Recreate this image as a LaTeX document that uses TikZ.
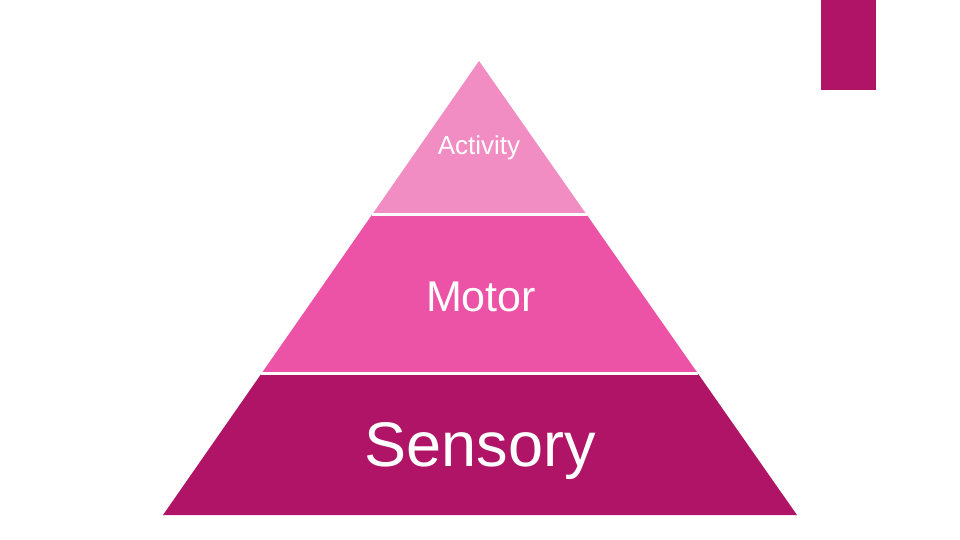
\documentclass[tikz,border=0pt]{standalone}
\usepackage{fontspec}
\setmainfont{Liberation Sans}
\usepackage{xcolor}
\usepackage{tikz}
\usetikzlibrary{positioning, calc}

\definecolor{pinklight}{HTML}{F28DC3}
\definecolor{pinkmid}{HTML}{EC52A5}
\definecolor{pinkdark}{HTML}{B01467}

\tikzset{
  layertext/.style={text=white, inner sep=0pt},
  divider/.style={white, line width=3pt}
}

\begin{document}
\begin{tikzpicture}[x=1pt, y=-1pt]
  \useasboundingbox (0,0) rectangle (960,540);
  \coordinate (apex) at (479,61);
  \coordinate (bl) at (163,515);
  \coordinate (br) at (797,515);
  \coordinate (ml) at ($(apex)!0.339!(bl)$);
  \coordinate (mr) at ($(apex)!0.339!(br)$);
  \coordinate (ll) at ($(apex)!0.689!(bl)$);
  \coordinate (lr) at ($(apex)!0.689!(br)$);
  % layers
  \fill[pinklight] (apex) -- (mr) -- (ml) -- cycle;
  \fill[pinkmid] (ml) -- (mr) -- (lr) -- (ll) -- cycle;
  \fill[pinkdark] (ll) -- (lr) -- (br) -- (bl) -- cycle;
  \draw[divider] (ml) -- (mr);
  \draw[divider] (ll) -- (lr);
  % corner bar
  \fill[pinkdark] (821,0) rectangle (876,90);
  % labels
  \node[layertext, font=\fontsize{26}{30}\selectfont] (activity) at (479,148) {Activity};
  \node[layertext, font=\fontsize{43}{50}\selectfont] (motor) at (481,297) {Motor};
  \node[layertext, font=\fontsize{63}{72}\selectfont] (sensory) at (480,451) {Sensory};
\end{tikzpicture}
\end{document}
